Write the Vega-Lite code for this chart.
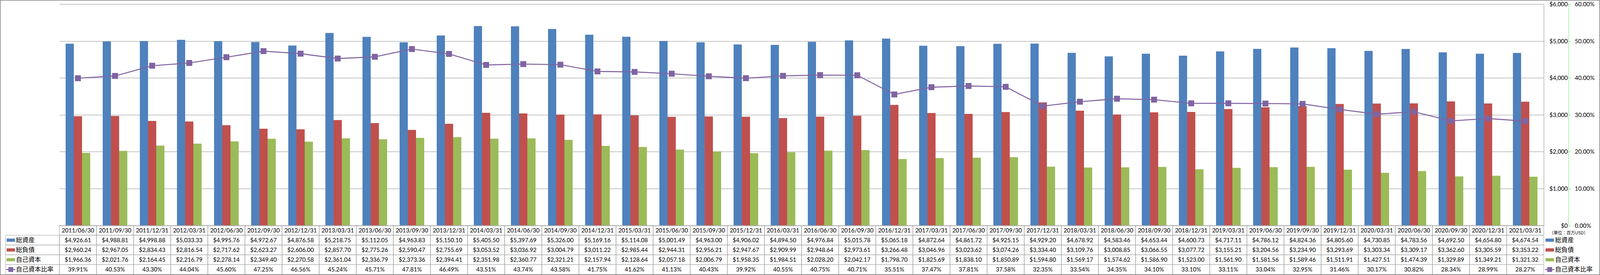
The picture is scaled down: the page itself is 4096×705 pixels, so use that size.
{
  "$schema": "https://vega.github.io/schema/vega-lite/v6.json",
  "width": 3800,
  "height": 567.5,
  "autosize": {"type": "none"},
  "padding": {"left": 152, "top": 10.5, "right": 144, "bottom": 127},
  "background": "white",
  "config": {"view": {"stroke": null}},
  "datasets": {
    "bs": [
      {"date":"2011/06/30","総資産":4926.61,"総負債":2960.24,"自己資本":1966.36,"自己資本比率":0.3991},
      {"date":"2011/09/30","総資産":4988.81,"総負債":2967.05,"自己資本":2021.76,"自己資本比率":0.4053},
      {"date":"2011/12/31","総資産":4998.88,"総負債":2834.43,"自己資本":2164.45,"自己資本比率":0.4330},
      {"date":"2012/03/31","総資産":5033.33,"総負債":2816.54,"自己資本":2216.79,"自己資本比率":0.4404},
      {"date":"2012/06/30","総資産":4995.76,"総負債":2717.62,"自己資本":2278.14,"自己資本比率":0.4560},
      {"date":"2012/09/30","総資産":4972.67,"総負債":2623.27,"自己資本":2349.40,"自己資本比率":0.4725},
      {"date":"2012/12/31","総資産":4876.58,"総負債":2606.00,"自己資本":2270.58,"自己資本比率":0.4656},
      {"date":"2013/03/31","総資産":5218.75,"総負債":2857.70,"自己資本":2361.04,"自己資本比率":0.4524},
      {"date":"2013/06/30","総資産":5112.05,"総負債":2775.26,"自己資本":2336.79,"自己資本比率":0.4571},
      {"date":"2013/09/30","総資産":4963.83,"総負債":2590.47,"自己資本":2373.36,"自己資本比率":0.4781},
      {"date":"2013/12/31","総資産":5150.10,"総負債":2755.69,"自己資本":2394.41,"自己資本比率":0.4649},
      {"date":"2014/03/31","総資産":5405.50,"総負債":3053.52,"自己資本":2351.98,"自己資本比率":0.4351},
      {"date":"2014/06/30","総資産":5397.69,"総負債":3036.92,"自己資本":2360.77,"自己資本比率":0.4374},
      {"date":"2014/09/30","総資産":5326.00,"総負債":3004.79,"自己資本":2321.21,"自己資本比率":0.4358},
      {"date":"2014/12/31","総資産":5169.16,"総負債":3011.22,"自己資本":2157.94,"自己資本比率":0.4175},
      {"date":"2015/03/31","総資産":5114.08,"総負債":2985.44,"自己資本":2128.64,"自己資本比率":0.4162},
      {"date":"2015/06/30","総資産":5001.49,"総負債":2944.31,"自己資本":2057.18,"自己資本比率":0.4113},
      {"date":"2015/09/30","総資産":4963.00,"総負債":2956.21,"自己資本":2006.79,"自己資本比率":0.4043},
      {"date":"2015/12/31","総資産":4906.02,"総負債":2947.67,"自己資本":1958.35,"自己資本比率":0.3992},
      {"date":"2016/03/31","総資産":4894.50,"総負債":2909.99,"自己資本":1984.51,"自己資本比率":0.4055},
      {"date":"2016/06/30","総資産":4976.84,"総負債":2948.64,"自己資本":2028.20,"自己資本比率":0.4075},
      {"date":"2016/09/30","総資産":5015.78,"総負債":2973.61,"自己資本":2042.17,"自己資本比率":0.4071},
      {"date":"2016/12/31","総資産":5065.18,"総負債":3266.48,"自己資本":1798.70,"自己資本比率":0.3551},
      {"date":"2017/03/31","総資産":4872.64,"総負債":3046.96,"自己資本":1825.69,"自己資本比率":0.3747},
      {"date":"2017/06/30","総資産":4861.72,"総負債":3023.62,"自己資本":1838.10,"自己資本比率":0.3781},
      {"date":"2017/09/30","総資産":4925.15,"総負債":3074.26,"自己資本":1850.89,"自己資本比率":0.3758},
      {"date":"2017/12/31","総資産":4929.20,"総負債":3334.40,"自己資本":1594.80,"自己資本比率":0.3235},
      {"date":"2018/03/31","総資産":4678.92,"総負債":3109.76,"自己資本":1569.17,"自己資本比率":0.3354},
      {"date":"2018/06/30","総資産":4583.46,"総負債":3008.85,"自己資本":1574.62,"自己資本比率":0.3435},
      {"date":"2018/09/30","総資産":4653.44,"総負債":3066.55,"自己資本":1586.90,"自己資本比率":0.3410},
      {"date":"2018/12/31","総資産":4600.73,"総負債":3077.72,"自己資本":1523.00,"自己資本比率":0.3310},
      {"date":"2019/03/31","総資産":4717.11,"総負債":3155.21,"自己資本":1561.90,"自己資本比率":0.3311},
      {"date":"2019/06/30","総資産":4786.12,"総負債":3204.56,"自己資本":1581.56,"自己資本比率":0.3304},
      {"date":"2019/09/30","総資産":4824.36,"総負債":3234.90,"自己資本":1589.46,"自己資本比率":0.3295},
      {"date":"2019/12/31","総資産":4805.60,"総負債":3293.69,"自己資本":1511.91,"自己資本比率":0.3146},
      {"date":"2020/03/31","総資産":4730.85,"総負債":3303.34,"自己資本":1427.51,"自己資本比率":0.3017},
      {"date":"2020/06/30","総資産":4783.56,"総負債":3309.17,"自己資本":1474.39,"自己資本比率":0.3082},
      {"date":"2020/09/30","総資産":4692.50,"総負債":3362.60,"自己資本":1329.89,"自己資本比率":0.2834},
      {"date":"2020/12/31","総資産":4654.80,"総負債":3305.59,"自己資本":1349.21,"自己資本比率":0.2899},
      {"date":"2021/03/31","総資産":4674.54,"総負債":3353.22,"自己資本":1321.32,"自己資本比率":0.2827}
    ],
    "series": [
      {"name": "総資産"},
      {"name": "総負債"},
      {"name": "自己資本"},
      {"name": "自己資本比率"}
    ]
  },
  "layer": [
    {
      "data": {"name": "bs"},
      "transform": [{"fold": ["総資産", "総負債", "自己資本"], "as": ["series", "value"]}],
      "mark": {"type": "bar"},
      "encoding": {
        "x": {"field": "date", "type": "nominal", "axis": null,
              "scale": {"type": "band", "paddingInner": 0.337, "paddingOuter": 0.1685}},
        "xOffset": {"field": "series", "type": "nominal",
                    "scale": {"domain": ["総資産", "総負債", "自己資本"], "paddingInner": 0, "paddingOuter": 0}},
        "y": {"field": "value", "type": "quantitative", "stack": null,
              "scale": {"domain": [0, 6000], "nice": false},
              "axis": {
                "orient": "right", "values": [0, 1000, 2000, 3000, 4000, 5000, 6000], "format": "$,d",
                "grid": true, "gridColor": "#8C8C8C", "gridWidth": 1,
                "domain": true, "domainColor": "#8C8C8C", "domainWidth": 1,
                "ticks": false, "tickSize": 0,
                "labelAlign": "right", "labelPadding": 61, "labelFont": "Lato", "labelFontSize": 15, "labelColor": "#000000",
                "title": "（単位：百万USD）", "titleAngle": 0, "titleX": 63.2, "titleY": 586.8,
                "titleAlign": "center", "titleBaseline": "middle", "titleFont": "Noto Sans CJK JP",
                "titleFontSize": 11, "titleFontWeight": "normal", "titleColor": "#000000"
              }},
        "color": {"field": "series", "type": "nominal", "legend": null,
                  "scale": {"domain": ["総資産", "総負債", "自己資本", "自己資本比率"],
                            "range": ["#4F81BD", "#C0504D", "#9BBB59", "#8064A2"]}}
      }
    },
    {
      "data": {"name": "bs"},
      "encoding": {
        "x": {"field": "date", "type": "nominal", "axis": null,
              "scale": {"type": "point", "padding": 0.5}},
        "y": {"field": "自己資本比率", "type": "quantitative",
              "scale": {"domain": [0, 0.6], "nice": false},
              "axis": {
                "orient": "right", "offset": 63.2, "values": [0, 0.1, 0.2, 0.3, 0.4, 0.5, 0.6], "format": ".2%",
                "grid": false, "domain": true, "domainColor": "#00E600", "domainDash": [3, 2], "domainWidth": 1,
                "ticks": true, "tickColor": "#00E600", "tickSize": 5.5, "tickWidth": 1, "tickDash": [2, 1],
                "labelAlign": "left", "labelPadding": 10.4, "labelFont": "Lato", "labelFontSize": 15, "labelColor": "#000000",
                "title": null
              }}
      },
      "layer": [
        {"mark": {"type": "line", "color": "#8064A2", "strokeWidth": 2.6}},
        {"mark": {"type": "point", "shape": "square", "filled": true, "size": 230, "color": "#8064A2", "opacity": 1}}
      ]
    },
    {
      "layer": [
        {
          "data": {"name": "bs"},
          "encoding": {
            "x": {"field": "date", "type": "nominal", "axis": null,
                  "scale": {"type": "band", "paddingInner": 0, "paddingOuter": 0}}
          },
          "layer": [
            {
              "transform": [{"fold": ["総資産", "総負債", "自己資本", "自己資本比率"], "as": ["series", "value"]}],
              "mark": {"type": "rect", "fill": "transparent", "stroke": "#A0A0A0", "strokeWidth": 1},
              "encoding": {
                "y": {"field": "series", "type": "nominal", "axis": null,
                      "scale": {"type": "band", "domain": ["header", "総資産", "総負債", "自己資本", "自己資本比率"], "range": [567.5, 693], "paddingInner": 0, "paddingOuter": 0}}
              }
            },
            {
              "mark": {"type": "rect", "fill": "transparent", "stroke": "#A0A0A0", "strokeWidth": 1},
              "encoding": {
                "y": {"datum": "header", "type": "nominal", "axis": null}
              }
            },
            {
              "mark": {"type": "text", "font": "Lato", "fontSize": 15, "color": "#000000", "align": "center", "baseline": "middle"},
              "encoding": {
                "y": {"datum": "header", "type": "nominal", "axis": null},
                "text": {"field": "date", "type": "nominal"}
              }
            },
            {
              "transform": [{"fold": ["総資産", "総負債", "自己資本"], "as": ["series", "value"]}],
              "mark": {"type": "text", "font": "Lato", "fontSize": 15, "color": "#000000", "align": "center", "baseline": "middle"},
              "encoding": {
                "y": {"field": "series", "type": "nominal", "axis": null},
                "text": {"field": "value", "type": "quantitative", "format": "$,.2f"}
              }
            },
            {
              "mark": {"type": "text", "font": "Lato", "fontSize": 15, "color": "#000000", "align": "center", "baseline": "middle"},
              "encoding": {
                "y": {"datum": "自己資本比率", "type": "nominal", "axis": null},
                "text": {"field": "自己資本比率", "type": "quantitative", "format": ".2%"}
              }
            }
          ]
        },
        {
          "data": {"name": "series"},
          "encoding": {
            "y": {"field": "name", "type": "nominal", "axis": null}
          },
          "layer": [
            {
              "mark": {"type": "rect", "fill": "transparent", "stroke": "#A0A0A0", "strokeWidth": 1},
              "encoding": {
                "x": {"datum": 0, "type": "quantitative", "axis": null, "scale": {"domain": [0, 1], "range": [-138, 0], "nice": false, "zero": false}},
                "x2": {"datum": 1}
              }
            },
            {
              "mark": {"type": "point", "filled": true, "size": 458, "opacity": 1, "strokeWidth": 0},
              "encoding": {
                "x": {"datum": 0.099, "type": "quantitative"},
                "color": {"field": "name", "type": "nominal", "legend": null},
                "shape": {"field": "name", "type": "nominal", "legend": null,
                          "scale": {"domain": ["総資産", "総負債", "自己資本", "自己資本比率"],
                                    "range": ["M-1,-0.383H1V0.383H-1Z", "M-1,-0.383H1V0.383H-1Z", "M-1,-0.383H1V0.383H-1Z",
                                              "M-1.12,-0.12H-0.58V-0.58H0.58V-0.12H1.12V0.12H0.58V0.58H-0.58V0.12H-1.12Z"]}}
              }
            },
            {
              "mark": {"type": "text", "font": "Noto Sans CJK JP", "fontSize": 16, "color": "#000000", "align": "left", "baseline": "middle"},
              "encoding": {
                "x": {"datum": 0.193, "type": "quantitative"},
                "text": {"field": "name", "type": "nominal"}
              }
            }
          ]
        },
        {
          "data": {"name": "series"},
          "encoding": {
            "y": {"field": "name", "type": "nominal", "axis": null}
          },
          "layer": [
            {
              "mark": {"type": "point", "filled": true, "size": 458, "opacity": 1, "strokeWidth": 0},
              "encoding": {
                "x": {"datum": 0.106, "type": "quantitative", "axis": null, "scale": {"domain": [0, 1], "range": [3800, 3944], "nice": false, "zero": false}},
                "color": {"field": "name", "type": "nominal", "legend": null},
                "shape": {"field": "name", "type": "nominal", "legend": null}
              }
            },
            {
              "mark": {"type": "text", "font": "Noto Sans CJK JP", "fontSize": 16, "color": "#000000", "align": "left", "baseline": "middle"},
              "encoding": {
                "x": {"datum": 0.202, "type": "quantitative"},
                "text": {"field": "name", "type": "nominal"}
              }
            }
          ]
        }
      ],
      "resolve": {"scale": {"x": "independent"}}
    },
    {
      "data": {"values": [{}]},
      "mark": {"type": "rect", "fill": "transparent", "stroke": "#868686", "strokeWidth": 1.6},
      "encoding": {
        "x": {"datum": 0, "type": "quantitative", "axis": null, "scale": {"domain": [0, 1], "range": [-151.2, 3943.2], "nice": false, "zero": false}},
        "x2": {"datum": 1},
        "y": {"datum": 0, "type": "quantitative", "axis": null, "scale": {"domain": [0, 1], "range": [-9.7, 693.7], "nice": false, "zero": false}},
        "y2": {"datum": 1}
      }
    }
  ],
  "resolve": {"scale": {"x": "independent", "y": "independent"}}
}
